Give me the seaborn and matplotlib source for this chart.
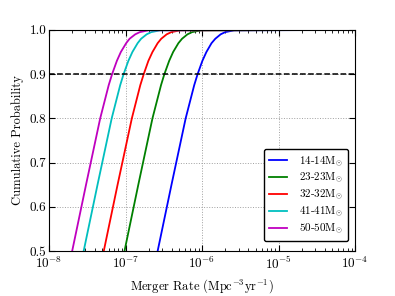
import numpy as np
import pandas as pd
import matplotlib
matplotlib.use("Agg")
import matplotlib.pyplot as plt
import seaborn as sns

prob = [0.5, 0.65, 0.8, 0.875, 0.9, 0.93, 0.95, 0.97, 0.98, 0.99, 0.995, 0.999, 1.0]

# merger rate (Mpc^-3 yr^-1) at each level, one list per mass bin
rate_14 = [2.63e-7, 3.99e-7, 6.11e-7, 7.90e-7, 8.75e-7, 1.01e-6, 1.14e-6, 1.33e-6, 1.49e-6, 1.75e-6, 2.01e-6, 2.62e-6, 1e-4]
rate_23 = [9.70e-8, 1.47e-7, 2.25e-7, 2.91e-7, 3.22e-7, 3.72e-7, 4.19e-7, 4.91e-7, 5.48e-7, 6.45e-7, 7.42e-7, 9.67e-7, 1e-4]
rate_32 = [5.20e-8, 7.88e-8, 1.21e-7, 1.56e-7, 1.73e-7, 1.99e-7, 2.25e-7, 2.63e-7, 2.93e-7, 3.45e-7, 3.97e-7, 5.18e-7, 1e-4]
rate_41 = [2.84e-8, 4.31e-8, 6.60e-8, 8.52e-8, 9.44e-8, 1.09e-7, 1.23e-7, 1.44e-7, 1.60e-7, 1.89e-7, 2.17e-7, 2.83e-7, 1e-4]
rate_50 = [2.01e-8, 3.05e-8, 4.67e-8, 6.03e-8, 6.68e-8, 7.71e-8, 8.69e-8, 1.02e-7, 1.13e-7, 1.34e-7, 1.54e-7, 2.00e-7, 1e-4]

labels = [r'14-14M$_{\odot}$', r'23-23M$_{\odot}$', r'32-32M$_{\odot}$',
          r'41-41M$_{\odot}$', r'50-50M$_{\odot}$']
colors = ['#0000ff', '#008000', '#ff0000', '#00bfbf', '#bf00bf']

# Build a long table for seaborn
rows = []
for lab, rates in zip(labels, [rate_14, rate_23, rate_32, rate_41, rate_50]):
    for r, p in zip(rates, prob):
        rows.append({'rate': r, 'prob': p, 'mass': lab})
df = pd.DataFrame(rows)

plt.rcParams['font.family'] = 'serif'
plt.rcParams['font.serif'] = ['cmr10', 'DejaVu Serif']
plt.rcParams['mathtext.fontset'] = 'cm'
plt.rcParams['axes.formatter.use_mathtext'] = True
plt.rcParams['axes.unicode_minus'] = False
plt.rcParams['xtick.direction'] = 'in'
plt.rcParams['ytick.direction'] = 'in'
plt.rcParams['xtick.top'] = True
plt.rcParams['ytick.right'] = True

fig = plt.figure(figsize=(3.95, 2.96), dpi=100)
ax = fig.add_axes([0.124, 0.152, 0.775, 0.747])

sns.lineplot(data=df, x='rate', y='prob', hue='mass', palette=colors,
             estimator=None, sort=False, lw=1.3, ax=ax)

# 90% level
ax.axhline(0.9, color='k', ls='--', lw=1.1)

ax.set_xscale('log')
ax.set_xlim(1e-8, 1e-4)
ax.set_ylim(0.5, 1.0)
ax.set_yticks([0.5, 0.6, 0.7, 0.8, 0.9, 1.0])
ax.set_yticklabels(['0.5', '0.6', '0.7', '0.8', '0.9', '1.0'])
ax.tick_params(labelsize=9.5, length=4)
ax.tick_params(axis='y', pad=2)
ax.tick_params(which='minor', length=2)
ax.grid(True, which='major', ls=':', color='#a0a0a0', lw=0.7)

ax.set_xlabel(r'Merger Rate (Mpc$^{-3}$yr$^{-1}$)', fontsize=9)
ax.set_ylabel('Cumulative Probability', fontsize=9)

leg = ax.legend(loc='lower right', fontsize=8, frameon=True, fancybox=True,
                handlelength=1.6, handletextpad=1.1, labelspacing=0.22,
                borderpad=0.45, bbox_to_anchor=(0.995, 0.02))
leg.get_frame().set_edgecolor('black')
leg.get_frame().set_alpha(1)

plt.savefig('out.png', dpi=100)
